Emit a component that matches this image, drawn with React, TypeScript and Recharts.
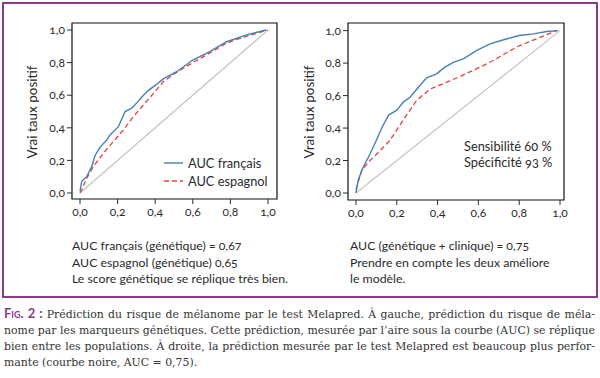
import React from 'react';
import {
  LineChart,
  Line,
  XAxis,
  YAxis,
  ReferenceArea,
} from 'recharts';

// axes
const ticks = [0, 0.2, 0.4, 0.6, 0.8, 1];
const diagX = [0, 1];
const diagY = [0, 1];

// left panel: genetic score, French vs Spanish cohorts
const frFpr = [0, 0.009, 0.035, 0.062, 0.08, 0.106, 0.142, 0.16, 0.177, 0.204, 0.22, 0.24, 0.275, 0.3, 0.33, 0.364, 0.4, 0.443, 0.514, 0.6, 0.69, 0.78, 0.887, 0.99];
const frTpr = [0.01, 0.07, 0.1, 0.16, 0.23, 0.28, 0.325, 0.356, 0.376, 0.407, 0.448, 0.5, 0.52, 0.55, 0.59, 0.63, 0.66, 0.7, 0.744, 0.816, 0.867, 0.928, 0.97, 1];
const esFpr = [0, 0.009, 0.035, 0.07, 0.124, 0.177, 0.23, 0.284, 0.337, 0.39, 0.443, 0.5, 0.6, 0.7, 0.78, 0.88, 1];
const esTpr = [0, 0.018, 0.09, 0.16, 0.244, 0.315, 0.386, 0.468, 0.54, 0.61, 0.683, 0.73, 0.8, 0.865, 0.92, 0.96, 1];

// right panel: genetic + clinical vs genetic only
const gcFpr = [0, 0.011, 0.036, 0.069, 0.1, 0.13, 0.16, 0.2, 0.232, 0.265, 0.305, 0.346, 0.395, 0.436, 0.477, 0.526, 0.59, 0.657, 0.74, 0.8, 0.87, 0.935, 0.99];
const gcTpr = [0, 0.08, 0.16, 0.24, 0.325, 0.41, 0.48, 0.51, 0.56, 0.59, 0.65, 0.71, 0.734, 0.775, 0.805, 0.826, 0.877, 0.918, 0.95, 0.97, 0.98, 0.995, 1];
const gFpr = [0, 0.028, 0.069, 0.118, 0.167, 0.232, 0.297, 0.363, 0.46, 0.575, 0.673, 0.788, 0.886, 0.984];
const gTpr = [0.02, 0.14, 0.2, 0.26, 0.325, 0.45, 0.57, 0.64, 0.69, 0.755, 0.816, 0.9, 0.95, 1];

const zip = (xs: number[], ys: number[]) => xs.map((x, i) => ({ x, y: ys[i] }));

const BLUE = '#4581b4';
const RED = '#e0443c';
const GREY = '#c4c4c4';
const INK = '#2a2a2a';
const PURPLE = '#8b3a8b';
const SANS = 'Lato, "Noto Sans", sans-serif';

const fmt = (v: number) => v.toFixed(1).replace('.', ',');

// tick text with old-style figures like the print version
const OldTick = ({ x, y, payload, textAnchor, orient }: any) => (
  <text
    x={x}
    y={y}
    dy={orient === 'bottom' ? '0.85em' : '0.35em'}
    textAnchor={textAnchor}
    fill={INK}
    style={{ fontFamily: SANS, fontSize: 12, fontVariantNumeric: 'oldstyle-nums' }}
  >
    {fmt(payload.value)}
  </text>
);

interface RocProps {
  left: number;
  margin: { top: number; right: number; bottom: number; left: number };
  xDomain: [number, number];
  yDomain: [number, number];
  solid: { x: number; y: number }[];
  dashed: { x: number; y: number }[];
}

function RocPanel({ left, margin, xDomain, yDomain, solid, dashed }: RocProps) {
  return (
    <div style={{ position: 'absolute', left, top: 0 }}>
      <LineChart width={300} height={240} margin={margin}>
        <XAxis
          type="number"
          dataKey="x"
          domain={xDomain}
          ticks={ticks}
          allowDataOverflow
          axisLine={false}
          tickSize={5}
          tickLine={{ stroke: INK }}
          tick={<OldTick orient="bottom" />}
          height={30}
        />
        <YAxis
          type="number"
          dataKey="y"
          domain={yDomain}
          ticks={ticks}
          allowDataOverflow
          axisLine={false}
          tickSize={5}
          tickLine={{ stroke: INK }}
          tick={<OldTick orient="left" />}
          width={40}
        />
        <Line data={zip(diagX, diagY)} dataKey="y" stroke={GREY} strokeWidth={1.2} dot={false} isAnimationActive={false} />
        <Line data={dashed} dataKey="y" stroke={RED} strokeWidth={1.3} strokeDasharray="5 3" dot={false} isAnimationActive={false} />
        <Line data={solid} dataKey="y" stroke={BLUE} strokeWidth={1.4} dot={false} isAnimationActive={false} />
        <ReferenceArea
          x1={xDomain[0]}
          x2={xDomain[1]}
          y1={yDomain[0]}
          y2={yDomain[1]}
          fill="none"
          fillOpacity={0}
          stroke="#111"
          strokeWidth={1.2}
          ifOverflow="visible"
        />
      </LineChart>
    </div>
  );
}

const yLabel = (x: number) => (
  <div
    style={{
      position: 'absolute',
      left: x - 60,
      top: 112 - 8,
      width: 120,
      height: 16,
      lineHeight: '16px',
      textAlign: 'center',
      transform: 'rotate(-90deg)',
      fontFamily: SANS,
      fontSize: 13.5,
      color: INK,
    }}
  >
    Vrai taux positif
  </div>
);

const noteStyle: React.CSSProperties = {
  position: 'absolute',
  top: 238,
  fontFamily: SANS,
  fontSize: 12.3,
  lineHeight: '16.5px',
  color: INK,
  whiteSpace: 'nowrap',
  fontVariantNumeric: 'oldstyle-nums',
};

const captionLines = [
  'Prédiction du risque de mélanome par le test Melapred. À gauche, prédiction du risque de méla-',
  'nome par les marqueurs génétiques. Cette prédiction, mesurée par l’aire sous la courbe (AUC) se réplique',
  'bien entre les populations. À droite, la prédiction mesurée par le test Melapred est beaucoup plus perfor-',
  'mante (courbe noire, AUC = 0,75).',
];

export default function App() {
  return (
    <div style={{ position: 'absolute', left: 0, top: 0, width: 600, height: 378, background: '#fff', overflow: 'hidden' }}>
      <div style={{ position: 'absolute', left: 2, top: 2, width: 592, height: 292, border: `2px solid ${PURPLE}` }} />

      <RocPanel
        left={0}
        margin={{ top: 23, right: 23, bottom: 11, left: 32 }}
        xDomain={[-0.0426, 1.048]}
        yDomain={[-0.0368, 1.043]}
        solid={zip(frFpr, frTpr)}
        dashed={zip(esFpr, esTpr)}
      />
      <RocPanel
        left={300}
        margin={{ top: 23, right: 36, bottom: 10, left: 8 }}
        xDomain={[-0.039, 1.0196]}
        yDomain={[-0.043, 1.047]}
        solid={zip(gcFpr, gcTpr)}
        dashed={zip(gFpr, gTpr)}
      />

      {yLabel(32)}
      {yLabel(309)}

      {/* legend, left panel */}
      <div style={{ position: 'absolute', left: 164, top: 154, fontFamily: SANS, fontSize: 12.8, color: INK, lineHeight: '18px' }}>
        <div style={{ display: 'flex', alignItems: 'center' }}>
          <svg width={19} height={4} style={{ marginRight: 5 }}>
            <line x1={0} y1={2} x2={19} y2={2} stroke={BLUE} strokeWidth={1.4} />
          </svg>
          AUC français
        </div>
        <div style={{ display: 'flex', alignItems: 'center' }}>
          <svg width={19} height={4} style={{ marginRight: 5 }}>
            <line x1={0} y1={2} x2={19} y2={2} stroke={RED} strokeWidth={1.3} strokeDasharray="5 3" />
          </svg>
          AUC espagnol
        </div>
      </div>

      {/* annotation, right panel */}
      <div style={{ position: 'absolute', left: 464, top: 138, fontFamily: SANS, fontSize: 12.8, lineHeight: '16px', color: INK, fontVariantNumeric: 'oldstyle-nums' }}>
        <div>Sensibilité 60 %</div>
        <div>Spécificité 93 %</div>
      </div>

      <div style={{ ...noteStyle, left: 72 }}>
        <div>AUC français (génétique) = 0,67</div>
        <div>AUC espagnol (génétique) 0,65</div>
        <div>Le score génétique se réplique très bien.</div>
      </div>
      <div style={{ ...noteStyle, left: 350 }}>
        <div>AUC (génétique + clinique) = 0,75</div>
        <div>Prendre en compte les deux améliore</div>
        <div>le modèle.</div>
      </div>

      {/* caption */}
      <div
        style={{
          position: 'absolute',
          left: 4,
          top: 305,
          width: 591,
          fontFamily: '"DejaVu Serif", serif',
          fontSize: 10.9,
          lineHeight: '16px',
          color: '#333',
          fontVariantNumeric: 'oldstyle-nums',
        }}
      >
        {captionLines.map((line, i) => (
          <div
            key={i}
            style={{
              whiteSpace: 'nowrap',
              textAlign: 'justify',
              textAlignLast: i < captionLines.length - 1 ? 'justify' : 'left',
            }}
          >
            {i === 0 && (
              <span style={{ fontFamily: SANS, fontWeight: 700, fontSize: 13, color: PURPLE, fontVariant: 'small-caps' }}>
                Fig. 2 :{' '}
              </span>
            )}
            {line}
          </div>
        ))}
      </div>
    </div>
  );
}
